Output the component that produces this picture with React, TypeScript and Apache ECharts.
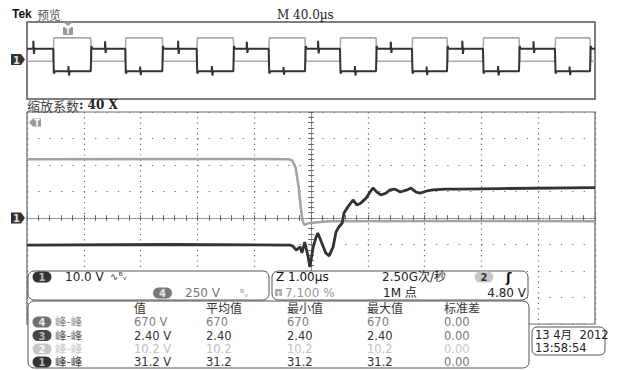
import React, { useEffect, useRef } from "react";
import * as echarts from "echarts";

// ---------- Overview window (M 40.0µs/div, 0–400 µs) ----------
const ovGreyRise = [18.5, 69.2, 119.5, 170.2, 220.4, 271.1, 321.1, 371.8];
const ovGreyFall = [44.9, 95.3, 145.3, 195.8, 245.8, 295.8, 346.5, 396.5];
const ovGreyHigh = 2.31;
const ovGreyLow = -0.18;
const ovDarkHigh = 1.14;
const ovDarkLow = -1.24;
const ovHighSpikeT = [4.4, 54.9, 106.3, 154.7, 204.9, 256.1, 306.5, 356.6];
const ovHighSpikeUp = [2.0, 1.95, 2.0, 1.9, 2.0, 1.9, 2.0, 1.95];
const ovHighSpikeDown = [0.6, 0.7, 0.6, 0.7, 0.65, 0.7, 0.6, 0.7];
const ovLowSpikeT = [29.1, 79.6, 130.1, 180.5, 230.8, 281.3, 331.6, 382.0];
const ovLowSpikeUp = [-0.7, -0.75, -0.7, -0.8, -0.7, -0.75, -0.7, -0.75];
const ovLowSpikeDown = [-1.7, -1.65, -1.7, -1.6, -1.7, -1.65, -1.7, -1.65];

// ---------- Zoomed window (1.00µs/div, centred) ----------
const mainGrey: [number, number][] = [
  [-5, 2.22], [-1.5, 2.23], [-0.4, 2.22], [-0.33, 2.17], [-0.27, 1.9], [-0.22, 1.2],
  [-0.18, 0.4], [-0.15, -0.1], [-0.12, -0.26], [-0.05, -0.2], [0.3, -0.12], [2.5, -0.11], [5, -0.12],
];
const mainDark: [number, number][] = [
  [-5, -1.02], [-2.5, -1.0], [-0.37, -1.02], [-0.32, -1.06], [-0.26, -1.21], [-0.19, -1.09],
  [-0.16, -1.32], [-0.11, -0.91], [-0.05, -1.47], [-0.02, -1.85], [0.04, -1.09], [0.09, -0.72],
  [0.12, -0.57], [0.19, -0.94], [0.26, -1.32], [0.32, -1.43], [0.39, -1.09], [0.44, -0.53],
  [0.49, -0.34], [0.55, -0.19], [0.58, 0.19], [0.65, 0.42], [0.74, 0.68], [0.81, 0.49],
  [0.88, 0.57], [0.97, 0.75], [1.04, 0.98], [1.09, 1.13], [1.16, 0.98], [1.23, 0.87],
  [1.32, 0.94], [1.39, 1.06], [1.48, 1.09], [1.57, 0.98], [1.69, 1.06], [1.76, 1.13],
  [1.85, 0.98], [1.92, 0.94], [2.04, 1.02], [2.15, 1.06], [2.36, 1.09], [2.62, 1.09],
  [3.33, 1.11], [5, 1.15],
];

// ---------- Read-outs ----------
const chScaleCh1 = "10.0 V";
const chScaleCh4 = "250 V";
const timeScale = "Z 1.00µs";
const triggerPos = "7.100 %";
const sampleRate = "2.50G次/秒";
const recordLen = "1M 点";
const trigLevel = "4.80 V";
const measHeaders = ["值", "平均值", "最小值", "最大值", "标准差"];
const measChannels = ["4", "3", "2", "1"];
const measLabel = ["峰-峰", "峰-峰", "峰-峰", "峰-峰"];
const measValue = ["670 V", "2.40 V", "10.2 V", "31.2 V"];
const measMean = ["670", "2.40", "10.2", "31.2"];
const measMin = ["670", "2.40", "10.2", "31.2"];
const measMax = ["670", "2.40", "10.2", "31.2"];
const measStd = ["0.00", "0.00", "0.00", "0.00"];
const dateLine = "13 4月  2012";
const timeLine = "13:58:54";

function buildOvGrey() {
  const pts: [number, number][] = [[0, ovGreyLow]];
  ovGreyRise.forEach((r, i) => {
    pts.push([r, ovGreyLow], [r + 0.4, ovGreyHigh], [ovGreyFall[i], ovGreyHigh], [ovGreyFall[i] + 0.6, ovGreyLow]);
  });
  pts.push([400, ovGreyLow]);
  return pts;
}
function buildOvDark() {
  const pts: [number, number][] = [[0, ovDarkHigh], [400, ovDarkHigh]];
  ovGreyRise.forEach((t) => pts.push([t, ovDarkHigh], [t + 0.4, ovDarkLow - 0.25], [t + 1.2, ovDarkLow]));
  ovGreyFall.forEach((t) => pts.push([t, ovDarkLow], [t + 0.4, ovDarkHigh + 0.3], [t + 1.2, ovDarkHigh]));
  ovHighSpikeT.forEach((t, i) =>
    pts.push([t, ovDarkHigh], [t + 0.1, ovHighSpikeUp[i]], [t + 0.5, ovHighSpikeDown[i]], [t + 0.9, ovDarkHigh])
  );
  ovLowSpikeT.forEach((t, i) =>
    pts.push([t, ovDarkLow], [t + 0.1, ovLowSpikeUp[i]], [t + 0.5, ovLowSpikeDown[i]], [t + 0.9, ovDarkLow])
  );
  pts.sort((a, b) => a[0] - b[0]);
  return pts;
}

const SANS = '"DejaVu Sans", "Noto Sans CJK SC", sans-serif';
const CJK = '"Noto Sans CJK SC", sans-serif';

function txt(x: number, y: number, text: string, fill = "#222", font = `11.5px ${SANS}`, align = "left") {
  return {
    type: "text",
    x,
    y,
    z: 110,
    style: { text, fill, font, textAlign: align, textVerticalAlign: "middle", verticalAlign: "middle" },
  };
}
function rrect(x: number, y: number, w: number, h: number, r: number, fill: string, stroke?: string, lw = 1) {
  return {
    type: "rect",
    z: 100,
    shape: { x, y, width: w, height: h, r },
    style: { fill, stroke: stroke || "none", lineWidth: lw },
  };
}
function oval(cx: number, cy: number, label: string, fill: string, color: string, w = 19) {
  return [rrect(cx - w / 2, cy - 5.5, w, 11, 5.5, fill), txt(cx, cy + 0.5, label, color, `bold 10px ${SANS}`, "center")];
}

const tickCol = "#7a7a7a";
function mainX(position: string, split: boolean) {
  return {
    type: "value", gridIndex: 1, min: -5, max: 5, interval: 1, position,
    axisLabel: { show: false }, axisLine: { show: false },
    axisTick: { show: true, inside: true, length: 3, lineStyle: { color: tickCol } },
    minorTick: { show: true, splitNumber: 5, length: 3, lineStyle: { color: tickCol } },
    splitLine: { show: split, lineStyle: { color: "#6a6a6a", width: 1.2, type: [1.2, 4.1] } },
  };
}
function mainY(position: string, split: boolean) {
  return {
    type: "value", gridIndex: 1, min: -4, max: 4, interval: 1, position,
    axisLabel: { show: false }, axisLine: { show: false },
    axisTick: { show: true, inside: true, length: 3, lineStyle: { color: tickCol } },
    minorTick: { show: true, splitNumber: 5, length: 3, lineStyle: { color: tickCol } },
    splitLine: { show: split, lineStyle: { color: "#6a6a6a", width: 1.2, type: [1.2, 10.16] } },
  };
}
function centerX(inside: boolean) {
  return {
    type: "value", gridIndex: 1, min: -5, max: 5, interval: 1, position: "bottom",
    axisLabel: { show: false },
    axisLine: { show: true, onZero: true, onZeroAxisIndex: 1, lineStyle: { color: "#777", width: 1, type: [1, 2] } },
    axisTick: { show: true, inside, length: 2, lineStyle: { color: "#666" } },
    minorTick: { show: true, splitNumber: 5, length: 2, lineStyle: { color: "#666" } },
    splitLine: { show: false },
  };
}
function centerY(inside: boolean) {
  return {
    type: "value", gridIndex: 1, min: -4, max: 4, interval: 1, position: "left",
    axisLabel: { show: false },
    axisLine: { show: true, onZero: true, onZeroAxisIndex: 1, lineStyle: { color: "#777", width: 1, type: [1, 2] } },
    axisTick: { show: true, inside, length: 2, lineStyle: { color: "#666" } },
    minorTick: { show: true, splitNumber: 5, length: 2, lineStyle: { color: "#666" } },
    splitLine: { show: false },
  };
}

function buildGraphics() {
  const g: any[] = [];
  // header
  g.push(txt(12, 14, "Tek", "#111", `bold 12px "Liberation Sans", sans-serif`));
  g.push(txt(37, 14, "预览", "#555", `12px ${CJK}`));
  g.push(txt(277, 15, "M 40.0µs", "#222", `12px "DejaVu Serif", serif`));
  g.push({
    type: "text", x: 27, y: 105, z: 110,
    style: {
      text: "{a|缩放系数}{b|: 40 X}", textVerticalAlign: "middle", verticalAlign: "middle",
      rich: {
        a: { font: `13px ${CJK}`, fill: "#444" },
        b: { font: `bold 12px "DejaVu Serif", serif`, fill: "#222" },
      },
    },
  });
  // channel 1 ground markers
  [59.6, 218].forEach((cy) => {
    g.push({ type: "polygon", z: 100, shape: { points: [[11, cy - 5.5], [21, cy - 5.5], [25, cy], [21, cy + 5.5], [11, cy + 5.5]] }, style: { fill: "#333" } });
    g.push(txt(16.5, cy + 0.5, "1", "#ddd", `bold 10px ${SANS}`, "center"));
  });
  // trigger markers
  g.push({ type: "polygon", z: 100, shape: { points: [[63, 22], [73, 22], [68, 26]] }, style: { fill: "#999" } });
  g.push(rrect(63, 27, 10, 8, 1, "#999"));
  g.push(txt(68, 31.5, "T", "#fff", `bold 8px ${SANS}`, "center"));
  g.push({ type: "polygon", z: 100, shape: { points: [[29, 122.5], [33, 118.5], [41, 118.5], [41, 126.5], [33, 126.5]] }, style: { fill: "#999" } });
  g.push(txt(37, 123, "T", "#fff", `bold 8px ${SANS}`, "center"));

  // channel box
  g.push(rrect(28, 271, 241, 29, 6, "#fff", "#555", 1));
  g.push(...oval(42, 277, "1", "#333", "#bbb"));
  g.push(txt(65, 277, chScaleCh1, "#222", `12px ${SANS}`));
  g.push(txt(110, 276, "∿ᴮᵥ", "#444", `10px ${SANS}`));
  g.push(...oval(162.5, 293, "4", "#777", "#e6e6e6"));
  g.push(txt(185, 293, chScaleCh4, "#777", `12px ${SANS}`));
  g.push(txt(240, 293, "ᴮᵥ", "#999", `10px ${SANS}`));

  // timebase box
  g.push(rrect(272, 271, 256, 29, 6, "#fff", "#555", 1));
  g.push(txt(276, 277, timeScale, "#111", `12px ${SANS}`));
  g.push(rrect(275, 289, 7, 7, 1, "#aaa"));
  g.push(txt(278.5, 293, "T", "#fff", `bold 6px ${SANS}`, "center"));
  g.push(txt(285, 293, triggerPos, "#999", `12px ${SANS}`));
  g.push(txt(382, 277, sampleRate, "#222", `12px ${SANS}`));
  g.push(txt(383, 293, recordLen, "#222", `12px ${SANS}`));
  g.push(...oval(484, 277, "2", "#c8c8c8", "#333"));
  g.push(txt(506, 277, "ʃ", "#111", `bold 13px ${SANS}`));
  g.push(txt(526, 293, trigLevel, "#222", `12px ${SANS}`, "right"));

  // measurement table
  g.push(rrect(28, 301, 501, 67, 6, "#fff", "#555", 1));
  const colX = [134, 206, 287, 367, 444];
  measHeaders.forEach((h, i) => g.push(txt(colX[i], 309, h, "#333", `12px ${SANS}`)));
  const rowY = [322, 335.5, 349, 362];
  const ovalFill = ["#707070", "#454545", "#c6c6c6", "#333"];
  const ovalText = ["#e8e8e8", "#b8b8b8", "#fafafa", "#b8b8b8"];
  const labelCol = ["#8c8c8c", "#666", "#c8c8c8", "#444"];
  const valCol = ["#7c7c7c", "#333", "#c0c0c0", "#333"];
  measChannels.forEach((ch, r) => {
    const y = rowY[r];
    g.push(...oval(42, y, ch, ovalFill[r], ovalText[r]));
    g.push(txt(55, y, measLabel[r], labelCol[r], `11.5px ${SANS}`));
    [measValue[r], measMean[r], measMin[r], measMax[r], measStd[r]].forEach((v, c) =>
      g.push(txt(colX[c], y, v, c === 4 ? (r === 2 ? "#c8c8c8" : "#777") : valCol[r]))
    );
  });

  // date box
  g.push(rrect(532, 327, 73, 28, 5, "#fff", "#555", 1));
  g.push(txt(535, 334.5, dateLine, "#222", `11.5px ${SANS}`));
  g.push(txt(535, 348, timeLine, "#222", `11.5px ${SANS}`));
  return g;
}

export default function App() {
  const ref = useRef<HTMLDivElement>(null);
  useEffect(() => {
    const chart = echarts.init(ref.current!, null, { renderer: "svg" });
    const option: any = {
      animation: false,
      backgroundColor: "#fff",
      grid: [
        { left: 27, top: 22, width: 568, height: 77, show: true, borderColor: "#555", borderWidth: 1.5, backgroundColor: "transparent" },
        { left: 27, top: 112, width: 568, height: 212, show: true, borderColor: "#666", borderWidth: 1.2, backgroundColor: "transparent" },
      ],
      xAxis: [
        { type: "value", gridIndex: 0, min: 0, max: 400, show: false },
        mainX("bottom", true),
        mainX("top", false),
        centerX(true),
        centerX(false),
      ],
      yAxis: [
        { type: "value", gridIndex: 0, min: -4.2, max: 4.0, show: false },
        mainY("left", true),
        mainY("right", false),
        centerY(true),
        centerY(false),
      ],
      series: [
        { type: "line", xAxisIndex: 0, yAxisIndex: 0, data: buildOvGrey(), showSymbol: false, lineStyle: { color: "#ababab", width: 1.6 }, z: 3 },
        { type: "line", xAxisIndex: 0, yAxisIndex: 0, data: buildOvDark(), showSymbol: false, lineStyle: { color: "#333", width: 2 }, z: 4 },
        { type: "line", xAxisIndex: 1, yAxisIndex: 1, data: mainGrey, showSymbol: false, lineStyle: { color: "#a2a2a2", width: 2.5 }, z: 3 },
        { type: "line", xAxisIndex: 1, yAxisIndex: 1, data: mainDark, showSymbol: false, lineStyle: { color: "#333", width: 2.8 }, z: 4 },
      ],
      graphic: { elements: buildGraphics() },
    };
    chart.setOption(option);
    return () => chart.dispose();
  }, []);
  return (
    <div
      ref={ref}
      style={{ position: "fixed", left: 0, top: 0, width: 621, height: 370, background: "#fff" }}
    />
  );
}
